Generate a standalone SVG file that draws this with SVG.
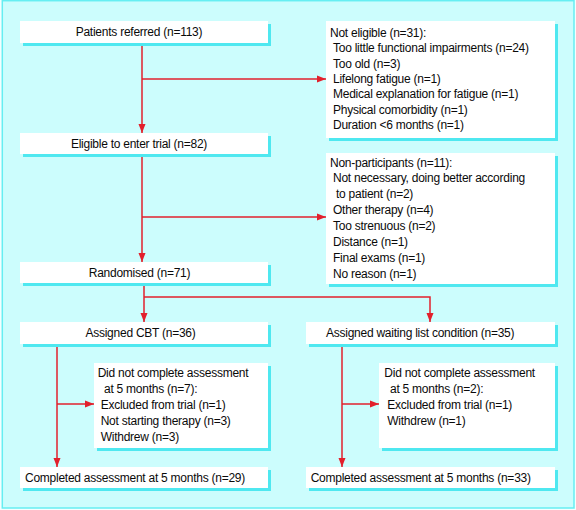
<svg xmlns="http://www.w3.org/2000/svg" width="576" height="510" viewBox="0 0 576 510">
<defs>
<style>
.sh{fill:#4fe8f0}
.bx{fill:#ffffff}
text{font-family:"Liberation Sans",Arial,sans-serif;font-size:12px;letter-spacing:-0.25px;fill:#0a0a0a}
.c{text-anchor:middle}
.ln{stroke:#e2202c;stroke-width:1.5;fill:none}
</style>
<marker id="ah" markerWidth="9" markerHeight="9" viewBox="0 0 9 9" refX="9" refY="4.5" orient="auto" markerUnits="userSpaceOnUse">
<path d="M0,1 L9,4.5 L0,8 z" fill="#e2202c"/>
</marker>
</defs>
<rect x="0" y="0" width="576" height="510" fill="#f4ffff"/>
<rect x="2.3" y="0.7" width="571.7" height="507.3" fill="#ccfdfd" stroke="#66eef2" stroke-width="1.5"/>

<g id="connectors">
<path class="ln" d="M142,43 V133" marker-end="url(#ah)"/>
<path class="ln" d="M142,79 H326" marker-end="url(#ah)"/>
<path class="ln" d="M142,154 V262" marker-end="url(#ah)"/>
<path class="ln" d="M142,217 H326" marker-end="url(#ah)"/>
<path class="ln" d="M144,283 V322" marker-end="url(#ah)"/>
<path class="ln" d="M144,297 H430 V322" marker-end="url(#ah)"/>
<path class="ln" d="M57,344 V467" marker-end="url(#ah)"/>
<path class="ln" d="M57,404 H94" marker-end="url(#ah)"/>
<path class="ln" d="M342,344 V467" marker-end="url(#ah)"/>
<path class="ln" d="M342,404 H379" marker-end="url(#ah)"/>
</g>

<g id="referred">
<rect class="sh" x="23" y="24" width="248" height="22"/>
<rect class="bx" x="20" y="21" width="248" height="22"/>
<text class="c" x="139" y="36">Patients referred (n=113)</text>
</g>

<g id="not-eligible">
<rect class="sh" x="329" y="24" width="229" height="117"/>
<rect class="bx" x="326" y="21" width="229" height="117"/>
<text x="330" y="36.8">Not eligible (n=31):</text>
<text x="333" y="52.2">Too little functional impairments (n=24)</text>
<text x="333" y="67.6">Too old (n=3)</text>
<text x="333" y="83">Lifelong fatigue (n=1)</text>
<text x="333" y="98.4">Medical explanation for fatigue (n=1)</text>
<text x="333" y="113.8">Physical comorbidity (n=1)</text>
<text x="333" y="129.2">Duration &lt;6 months (n=1)</text>
</g>

<g id="eligible">
<rect class="sh" x="23" y="136" width="248" height="21"/>
<rect class="bx" x="20" y="133" width="248" height="21"/>
<text class="c" x="139" y="147.5">Eligible to enter trial (n=82)</text>
</g>

<g id="non-participants">
<rect class="sh" x="329" y="156" width="229" height="131"/>
<rect class="bx" x="326" y="153" width="229" height="131"/>
<text x="330" y="166.5">Non-participants (n=11):</text>
<text x="333" y="182.4">Not necessary, doing better according</text>
<text x="336" y="198.2">to patient (n=2)</text>
<text x="333" y="214.1">Other therapy (n=4)</text>
<text x="333" y="229.9">Too strenuous (n=2)</text>
<text x="333" y="245.8">Distance (n=1)</text>
<text x="333" y="261.7">Final exams (n=1)</text>
<text x="333" y="277.5">No reason (n=1)</text>
</g>

<g id="randomised">
<rect class="sh" x="23" y="265" width="248" height="21"/>
<rect class="bx" x="20" y="262" width="248" height="21"/>
<text class="c" x="139.5" y="276.5">Randomised (n=71)</text>
</g>

<g id="assigned-cbt">
<rect class="sh" x="23" y="325" width="248" height="22"/>
<rect class="bx" x="20" y="322" width="248" height="22"/>
<text class="c" x="140.5" y="337">Assigned CBT (n=36)</text>
</g>

<g id="assigned-waiting">
<rect class="sh" x="309" y="325" width="249" height="22"/>
<rect class="bx" x="306" y="322" width="249" height="22"/>
<text x="326" y="337">Assigned waiting list condition (n=35)</text>
</g>

<g id="dnc-cbt">
<rect class="sh" x="97" y="366" width="174" height="85"/>
<rect class="bx" x="94" y="363" width="174" height="85"/>
<text x="97.7" y="377">Did not complete assessment</text>
<text x="104" y="393">at 5 months (n=7):</text>
<text x="100.7" y="409">Excluded from trial (n=1)</text>
<text x="100.7" y="425">Not starting therapy (n=3)</text>
<text x="100.7" y="441">Withdrew (n=3)</text>
</g>

<g id="dnc-waiting">
<rect class="sh" x="382" y="366" width="176" height="85"/>
<rect class="bx" x="379" y="363" width="176" height="85"/>
<text x="384.3" y="377">Did not complete assessment</text>
<text x="390" y="393">at 5 months (n=2):</text>
<text x="387.3" y="409">Excluded from trial (n=1)</text>
<text x="387.3" y="425">Withdrew (n=1)</text>
</g>

<g id="completed-cbt">
<rect class="sh" x="23" y="470" width="248" height="21"/>
<rect class="bx" x="20" y="467" width="248" height="21"/>
<text x="25" y="482">Completed assessment at 5 months (n=29)</text>
</g>

<g id="completed-waiting">
<rect class="sh" x="309" y="470" width="249" height="21"/>
<rect class="bx" x="306" y="467" width="249" height="21"/>
<text x="310.7" y="482">Completed assessment at 5 months (n=33)</text>
</g>
</svg>
